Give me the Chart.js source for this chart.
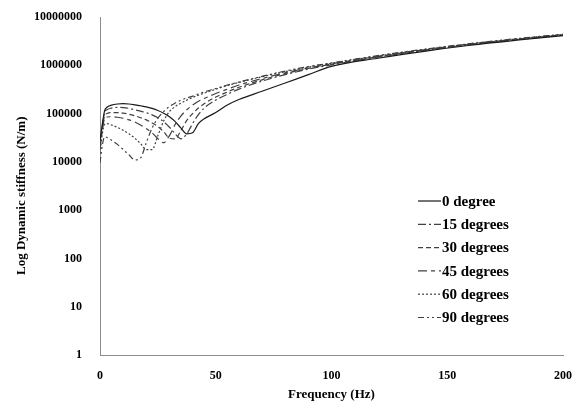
<!DOCTYPE html>
<html>
<head>
<meta charset="utf-8">
<script src="https://cdn.jsdelivr.net/npm/chart.js@4"></script>
<style>
  body { margin: 0; background: #fff; }
  #wrap { width: 579px; height: 402px; }
</style>
</head>
<body>
<div id="wrap"><canvas id="stiffness_chart" width="579" height="402"></canvas></div>
<script>
// frequency points (Hz)
var freq = [0, 1, 2, 3, 5, 7.5, 10, 12.5, 15, 17.5, 20, 22.5, 25, 27.5, 30, 32.5, 35, 37.5, 40, 42.5, 45, 50, 55, 60, 70, 80, 90, 100, 120, 140, 160, 180, 200];

// dynamic stiffness (N/m)
var deg0 = [28000, 60000, 115000, 135000, 150000, 158000, 160000, 158000, 152000, 145000, 138000, 128000, 116000, 102000, 86000, 68000, 50000, 38000, 40000, 62000, 78000, 105000, 150000, 195000, 290000, 430000, 640000, 950000, 1400000, 1950000, 2600000, 3300000, 4100000];
var deg15 = [25000, 55000, 105000, 120000, 130000, 134000, 133000, 128000, 120000, 112000, 104000, 94000, 82000, 68000, 52000, 38000, 30000, 38000, 62000, 95000, 130000, 190000, 250000, 320000, 470000, 640000, 830000, 1020000, 1480000, 2030000, 2680000, 3400000, 4200000];
var deg30 = [22000, 50000, 90000, 100000, 105000, 105000, 102000, 97000, 90000, 82000, 74000, 64000, 54000, 42000, 31000, 30000, 45000, 72000, 100000, 130000, 160000, 220000, 280000, 350000, 500000, 670000, 860000, 1050000, 1500000, 2060000, 2720000, 3450000, 4250000];
var deg45 = [18000, 45000, 80000, 85000, 86000, 84000, 80000, 74000, 67000, 58000, 49000, 40000, 30000, 25000, 35000, 60000, 90000, 120000, 150000, 180000, 205000, 260000, 320000, 390000, 530000, 700000, 880000, 1070000, 1530000, 2090000, 2750000, 3480000, 4300000];
var deg60 = [15000, 38000, 60000, 62000, 58000, 52000, 45000, 38000, 31000, 24000, 18000, 18000, 35000, 70000, 110000, 140000, 165000, 190000, 215000, 240000, 265000, 320000, 380000, 440000, 580000, 740000, 920000, 1100000, 1560000, 2120000, 2780000, 3520000, 4350000];
var deg90 = [9500, 22000, 33000, 32000, 28000, 23000, 18000, 14000, 11000, 12000, 25000, 50000, 80000, 110000, 140000, 165000, 190000, 210000, 230000, 255000, 280000, 330000, 390000, 450000, 590000, 760000, 940000, 1120000, 1590000, 2150000, 2820000, 3560000, 4400000];

var seriesLabels = ['0 degree', '15 degrees', '30 degrees', '45 degrees', '60 degrees', '90 degrees'];
var yTicks = [1, 10, 100, 1000, 10000, 100000, 1000000, 10000000];
var xTicks = [0, 50, 100, 150, 200];

var dashes = [[], [8, 3, 2, 3], [5, 3], [9, 4, 4, 4], [2, 2], [6, 3, 2, 3, 2, 3]];
var colors = ['#1a1a1a', '#404040', '#404040', '#404040', '#404040', '#404040'];

function toPoints(vals) {
    return freq.map(function (f, i) { return { x: f, y: vals[i] }; });
}

var allSeries = [deg0, deg15, deg30, deg45, deg60, deg90];
var datasets = allSeries.map(function (vals, i) {
    return {
        label: seriesLabels[i],
        data: toPoints(vals),
        borderColor: colors[i],
        borderWidth: 1.2,
        borderDash: dashes[i],
        pointRadius: 0,
        fill: false,
        cubicInterpolationMode: 'monotone'
    };
});

var serif = "'Liberation Serif', 'Times New Roman', serif";
Chart.defaults.font.family = serif;
Chart.defaults.font.weight = 'bold';
Chart.defaults.font.size = 12;
Chart.defaults.color = '#000';

// legend drawn inside the plot, right side
var sideLegend = {
    id: 'sideLegend',
    afterDraw: function (chart) {
        var ctx = chart.ctx;
        ctx.save();
        ctx.font = 'bold 15px ' + serif;
        ctx.textBaseline = 'middle';
        ctx.textAlign = 'left';
        chart.data.datasets.forEach(function (ds, i) {
            var y = 201 + i * 23.3;
            ctx.strokeStyle = ds.borderColor;
            ctx.lineWidth = 1.2;
            ctx.setLineDash(ds.borderDash);
            ctx.beginPath();
            ctx.moveTo(418, y);
            ctx.lineTo(441, y);
            ctx.stroke();
            ctx.setLineDash([]);
            ctx.fillStyle = '#000';
            ctx.fillText(ds.label, 442, y + 1);
        });
        ctx.restore();
    }
};

new Chart(document.getElementById('stiffness_chart').getContext('2d'), {
    type: 'line',
    data: { datasets: datasets },
    plugins: [sideLegend],
    options: {
        responsive: false,
        animation: false,
        layout: { padding: { top: 17, right: 16, left: 0, bottom: 0 } },
        plugins: { legend: { display: false }, tooltip: { enabled: false } },
        scales: {
            x: {
                type: 'linear',
                min: 0,
                max: 200,
                afterBuildTicks: function (scale) {
                    scale.ticks = xTicks.map(function (v) { return { value: v }; });
                },
                afterFit: function (scale) {
                    scale.height = 47;
                    scale.paddingLeft = 0;
                    scale.paddingRight = 0;
                },
                grid: { display: false, drawTicks: false },
                border: { display: true, color: '#8c8c8c', width: 1 },
                ticks: { padding: 14, maxRotation: 0, font: { size: 12, weight: 'bold' } },
                title: { display: true, text: 'Frequency (Hz)', font: { size: 13, weight: 'bold' }, padding: { top: 0, bottom: 0 } }
            },
            y: {
                type: 'logarithmic',
                min: 1,
                max: 10000000,
                afterBuildTicks: function (scale) {
                    scale.ticks = yTicks.map(function (v) { return { value: v }; });
                },
                afterFit: function (scale) {
                    scale.width = 100;
                    scale.paddingTop = 0;
                    scale.paddingBottom = 0;
                },
                grid: { display: false, drawTicks: false },
                border: { display: true, color: '#8c8c8c', width: 1 },
                ticks: {
                    padding: 18,
                    font: { size: 12, weight: 'bold' },
                    callback: function (v) { return String(v); }
                },
                // trailing spaces nudge the rotated title down a little, like the original
                title: { display: true, text: 'Log Dynamic stiffness (N/m)      ', font: { size: 13, weight: 'bold' }, padding: { top: 14, bottom: 0 } }
            }
        }
    }
});
</script>
</body>
</html>
